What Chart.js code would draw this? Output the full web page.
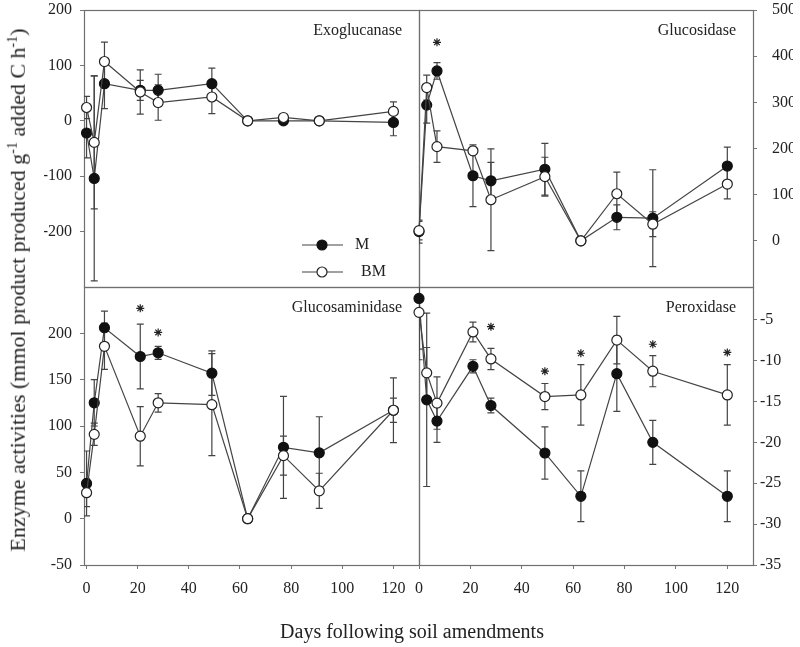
<!DOCTYPE html>
<html lang="en">

<head>
    <meta charset="UTF-8">
    <title>Enzyme activities</title>
    <script src="https://cdn.jsdelivr.net/npm/chart.js@4.4.0/dist/chart.umd.min.js"></script>
    <style>
        body { margin: 0; background: #fff; width: 800px; height: 647px; position: relative; overflow: hidden;
               font-family: "Liberation Serif", "Times New Roman", serif; color: #222; }
        canvas { position: absolute; left: 0; top: 0; }
        #ytitle { position: absolute; left: 18px; top: 290px; transform: translate(-50%, -50%) rotate(-90deg);
                  white-space: nowrap; font-size: 22px; }
        #ytitle sup { font-size: 14px; }
        #xtitle { position: absolute; left: 0; width: 824px; top: 620px; text-align: center; font-size: 20px; }
    </style>
</head>

<body>
    <canvas id="exo" width="800" height="647"></canvas>
    <canvas id="glc" width="800" height="647"></canvas>
    <canvas id="gam" width="800" height="647"></canvas>
    <canvas id="per" width="800" height="647"></canvas>
    <div id="ytitle">Enzyme activities (mmol product produced g<sup>-1</sup> added C h<sup>-1</sup>)</div>
    <div id="xtitle">Days following soil amendments</div>
    <script>
        // sampling days
        var days = [0, 3, 7, 21, 28, 49, 63, 77, 91, 120];
        var xTicks = [0, 20, 40, 60, 80, 100, 120];

        // Exoglucanase
        var exoM = [-22, -104, 67, 55, 55, 67, 0, 0, 0, -3];
        var exoMErr = [45, 185, 45, 18, 29, 28, 0, 0, 0, 24];
        var exoBM = [24, -39, 107, 52, 33, 43, 0, 6, 0, 17];
        var exoBMErr = [20, 120, 35, 40, 32, 30, 0, 0, 0, 17];
        var exoTicks = [-200, -100, 0, 100, 200];

        // Glucosidase
        var glcM = [20, 294, 368, 141, 130, 155, 0, 51, 49, 162];
        var glcMErr = [25, 39, 18, 67, 40, 56, 0, 27, 105, 41];
        var glcBM = [22, 332, 204, 195, 89, 139, 0, 102, 36, 123];
        var glcBMErr = [20, 27, 34, 5, 110, 42, 0, 47, 27, 32];
        var glcTicks = [0, 100, 200, 300, 400, 500];
        var glcStarDays = [7];
        var glcStars = [430];

        // Glucosaminidase
        var gamM = [38, 125, 206, 175, 179, 157, 0, 77, 71, 117];
        var gamMErr = [35, 25, 18, 35, 7, 24, 0, 55, 39, 35];
        var gamBM = [28, 91, 186, 89, 125, 123, 0, 68, 30, 117];
        var gamBMErr = [15, 12, 25, 32, 10, 55, 0, 21, 19, 13];
        var gamTicks = [-50, 0, 50, 100, 150, 200];
        var gamStarDays = [21, 28];
        var gamStars = [227, 201];

        // Peroxidase
        var perM = [-2.4, -14.8, -17.4, -10.7, -15.5, -21.3, -26.6, -11.6, -20.0, -26.6];
        var perMErr = [7.5, 10.6, 2.6, 0.8, 0.9, 3.2, 3.1, 4.6, 2.7, 3.1];
        var perBM = [-4.1, -11.5, -15.2, -6.5, -9.8, -14.4, -14.2, -7.5, -11.3, -14.2];
        var perBMErr = [4.5, 3.1, 3.2, 1.2, 1.3, 1.6, 3.7, 2.9, 1.9, 3.7];
        var perTicks = [-35, -30, -25, -20, -15, -10, -5];
        var perStarDays = [28, 49, 63, 91, 120];
        var perStars = [-5.85, -11.3, -9.1, -8.0, -9.0];

        var font = "'Liberation Serif', 'Times New Roman', serif";

        function pts(xs, ys) {
            return xs.map(function (d, i) { return { x: d, y: ys[i] }; });
        }

        // frame, error bars, panel title and legend
        var decor = {
            id: 'decor',
            beforeDatasetsDraw: function (chart, args, opts) {
                var ctx = chart.ctx, a = chart.chartArea;
                ctx.save();
                ctx.strokeStyle = '#6f6f6f';
                ctx.lineWidth = 1.2;
                ctx.strokeRect(a.left + 0.5, a.top + 0.5, a.width, a.height);
                ctx.beginPath();
                ctx.rect(a.left, a.top, a.width, a.height);
                ctx.clip();
                ctx.strokeStyle = '#444';
                ctx.lineWidth = 1.2;
                chart.data.datasets.forEach(function (ds) {
                    if (!ds.errorBars) return;
                    ds.data.forEach(function (p, i) {
                        var e = ds.errorBars[i];
                        if (!e) return;
                        var x = chart.scales.x.getPixelForValue(p.x);
                        var y1 = chart.scales.y.getPixelForValue(p.y - e);
                        var y2 = chart.scales.y.getPixelForValue(p.y + e);
                        ctx.beginPath();
                        ctx.moveTo(x, y1); ctx.lineTo(x, y2);
                        ctx.moveTo(x - 3.5, y1); ctx.lineTo(x + 3.5, y1);
                        ctx.moveTo(x - 3.5, y2); ctx.lineTo(x + 3.5, y2);
                        ctx.stroke();
                    });
                });
                ctx.restore();
            },
            afterDatasetsDraw: function (chart, args, opts) {
                var ctx = chart.ctx, a = chart.chartArea;
                ctx.save();
                ctx.fillStyle = '#222';
                ctx.font = '16px ' + font;
                ctx.textAlign = 'right';
                ctx.textBaseline = 'middle';
                ctx.fillText(opts.title, a.right - 17, a.top + 21);
                if (opts.legend) {
                    var rows = chart.data.datasets.filter(function (d) { return d.inLegend; });
                    rows.forEach(function (ds, i) {
                        var y = a.bottom - 42 + i * 27;
                        var x0 = a.right - 117;
                        ctx.strokeStyle = ds.borderColor;
                        ctx.lineWidth = 1.2;
                        ctx.beginPath();
                        ctx.moveTo(x0, y); ctx.lineTo(x0 + 41, y);
                        ctx.stroke();
                        ctx.beginPath();
                        ctx.arc(x0 + 20, y, 5, 0, Math.PI * 2);
                        ctx.fillStyle = ds.pointBackgroundColor;
                        ctx.fill();
                        ctx.strokeStyle = ds.pointBorderColor;
                        ctx.stroke();
                        ctx.fillStyle = '#222';
                        ctx.textAlign = 'left';
                        ctx.fillText(ds.label, x0 + 53 + (i ? 6 : 0), y);
                    });
                }
                ctx.restore();
            }
        };

        function panel(id, o) {
            var datasets = [
                {
                    label: 'M', inLegend: true, order: 1,
                    data: pts(days, o.m), errorBars: o.mErr,
                    borderColor: '#444', borderWidth: 1.2,
                    pointBackgroundColor: '#111', pointBorderColor: '#111',
                    pointRadius: 5, pointBorderWidth: 1.2, clip: false
                },
                {
                    label: 'BM', inLegend: true, order: 0,
                    data: pts(days, o.bm), errorBars: o.bmErr,
                    borderColor: '#444', borderWidth: 1.2,
                    pointBackgroundColor: '#fff', pointBorderColor: '#222',
                    pointRadius: 5, pointBorderWidth: 1.2, clip: false
                }
            ];
            if (o.starDays) {
                datasets.push({
                    label: '*', order: 0, showLine: false,
                    data: pts(o.starDays, o.stars),
                    pointStyle: 'star', pointRadius: 4,
                    pointBorderColor: '#222', pointBorderWidth: 1.2
                });
            }
            new Chart(document.getElementById(id), {
                type: 'line',
                data: { datasets: datasets },
                plugins: [decor],
                options: {
                    responsive: false,
                    animation: false,
                    events: [],
                    layout: { padding: o.pad, autoPadding: false },
                    elements: { line: { tension: 0 } },
                    plugins: {
                        legend: { display: false },
                        tooltip: { enabled: false },
                        decor: { title: o.title, legend: !!o.legend }
                    },
                    scales: {
                        x: {
                            type: 'linear', min: o.xMin, max: 130, display: o.showX,
                            afterBuildTicks: function (s) { s.ticks = xTicks.map(function (v) { return { value: v }; }); },
                            afterFit: function (s) {
                                s.height = o.showX ? 40 : 0;
                                s.paddingLeft = 0; s.paddingRight = 0;
                            },
                            border: { display: false },
                            grid: { drawOnChartArea: false, drawTicks: true, tickLength: 4, color: '#777' },
                            ticks: {
                                autoSkip: false, maxRotation: 0, padding: 10, color: '#222',
                                font: { family: font, size: 16 },
                                callback: function (v) { return String(v); }
                            }
                        },
                        y: {
                            type: 'linear', position: o.side, min: o.yMin, max: o.yMax,
                            afterBuildTicks: function (s) { s.ticks = o.yTicks.map(function (v) { return { value: v }; }); },
                            afterFit: function (s) {
                                s.width = 40;
                                s.paddingTop = 0; s.paddingBottom = 0;
                            },
                            border: { display: false },
                            grid: { drawOnChartArea: false, drawTicks: true, tickLength: 4, color: '#777' },
                            ticks: {
                                autoSkip: false, padding: o.tickPad, color: '#222',
                                font: { family: font, size: 16 },
                                callback: function (v) { return String(v); }
                            }
                        }
                    }
                }
            });
        }

        panel('exo', {
            title: 'Exoglucanase', legend: true,
            m: exoM, mErr: exoMErr, bm: exoBM, bmErr: exoBMErr,
            xMin: -1, showX: false, side: 'left', yMin: -300, yMax: 200, yTicks: exoTicks, tickPad: 8,
            pad: { left: 44, top: 10, right: 381, bottom: 360 }
        });
        panel('glc', {
            title: 'Glucosidase',
            m: glcM, mErr: glcMErr, bm: glcBM, bmErr: glcBMErr,
            starDays: glcStarDays, stars: glcStars,
            xMin: 0, showX: false, side: 'right', yMin: -100, yMax: 500, yTicks: glcTicks, tickPad: 15,
            pad: { left: 419, top: 10, right: 7, bottom: 360 }
        });
        panel('gam', {
            title: 'Glucosaminidase',
            m: gamM, mErr: gamMErr, bm: gamBM, bmErr: gamBMErr,
            starDays: gamStarDays, stars: gamStars,
            xMin: -1, showX: true, side: 'left', yMin: -50, yMax: 250, yTicks: gamTicks, tickPad: 8,
            pad: { left: 44, top: 287, right: 381, bottom: 42 }
        });
        panel('per', {
            title: 'Peroxidase',
            m: perM, mErr: perMErr, bm: perBM, bmErr: perBMErr,
            starDays: perStarDays, stars: perStars,
            xMin: 0, showX: true, side: 'right', yMin: -35, yMax: -1, yTicks: perTicks, tickPad: 3,
            pad: { left: 419, top: 287, right: 7, bottom: 42 }
        });
    </script>
</body>

</html>
